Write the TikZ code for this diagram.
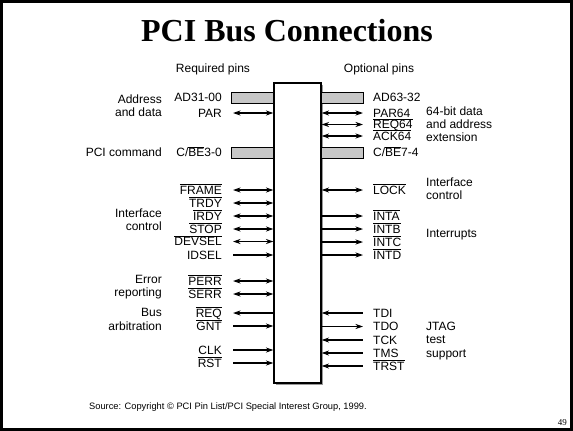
\documentclass[tikz,border=0pt]{standalone}
\usepackage{fontspec}
\setmainfont{Liberation Serif}
\newfontfamily\labsans{Liberation Sans}
\usetikzlibrary{arrows.meta}
\newcommand\ol[1]{$\overline{\hbox{#1}}$}
\newcommand\labfont{\labsans\fontsize{12}{13.2}\selectfont}
\tikzset{
  lab/.style={font=\labfont, inner sep=0pt},
  lpin/.style={lab, anchor=east, text height=8.6pt, text depth=0pt},
  rpin/.style={lab, anchor=west, text height=8.6pt, text depth=0pt},
  lgrp/.style={lab, anchor=east, align=right},
  rgrp/.style={lab, anchor=west, align=left},
  tip/.tip={Stealth[length=7.5pt,width=5pt]},
  wire/.style={line width=1.1pt},
  both/.style={wire, tip-tip},
  headR/.style={wire, -tip},
  headL/.style={wire, tip-},
  bus/.style={draw=black, line width=0.9pt, fill=black!22},
}
\begin{document}
\begin{tikzpicture}[x=1pt, y=-1pt]
  % slide frame
  \useasboundingbox (0,0) rectangle (573,431);
  \fill[white] (0,0) rectangle (573,431);
  \draw[line width=3pt] (1.5,1.5) rectangle (571.5,429.5);

  \node[font=\bfseries\fontsize{32}{36}\selectfont, inner sep=0pt] (title) at (287,31) {PCI Bus Connections};

  \node[lab] (req) at (213,69) {Required pins};
  \node[lab] (opt) at (379,69) {Optional pins};

  % the device body, with a soft shadow
  \fill[black!40] (276,85) rectangle (323,385);
  \node[draw, line width=1.1pt, fill=white, minimum width=47pt, minimum height=300pt, inner sep=0pt] (chip) at (297.5,233) {};

  % ---------- required pins (left side) ----------
  \node[lpin] (ad)  at (222,97.5) {AD31-00};
  \draw[bus] (231,92) rectangle (chip.west |- 0,103);
  \node[lpin] (par) at (222,113) {PAR};
  \coordinate (parE) at (233,113);
  \draw[both] (parE) -- (parE -| chip.west);
  \node[lpin] (cbe) at (222,152.5) {C/\ol{BE}3-0};
  \draw[bus] (231,147) rectangle (chip.west |- 0,158);

  \foreach \name/\txt/\yy/\sty in {
      frame/\ol{FRAME}/190/both, trdy/\ol{TRDY}/203/both, irdy/\ol{IRDY}/216/both,
      stop/\ol{STOP}/229/both, devsel/\ol{DEVSEL}/241.5/both, idsel/IDSEL/255/headR,
      perr/\ol{PERR}/281/both, serr/\ol{SERR}/294/both,
      reqq/\ol{REQ}/313/headL, gnt/\ol{GNT}/326/headR,
      clk/CLK/350/headR, rst/\ol{RST}/363/headR} {
    \node[lpin] (\name) at (222,\yy) {\txt};
    \coordinate (\name E) at (233,\yy);
    \draw[\sty] (\name E) -- (\name E -| chip.west);
  }

  \node[lgrp] (gaddr) at (162,105.5) {Address\\and data};
  \node[lgrp] (gcmd)  at (162,152.5) {PCI command};
  \node[lgrp] (gifc)  at (162,220) {Interface\\control};
  \node[lgrp] (gerr)  at (162,287.5) {Error\\reporting};
  \node[lgrp] (garb)  at (162,319.5) {Bus\\arbitration};

  % ---------- optional pins (right side) ----------
  \node[rpin] (ad64) at (373,97.5) {AD63-32};
  \draw[bus] (chip.east |- 0,92) rectangle (363,103);
  \node[rpin] (cbe64) at (373,152.5) {C/\ol{BE}7-4};
  \draw[bus] (chip.east |- 0,147) rectangle (363,158);

  \foreach \name/\txt/\yy/\sty in {
      par64/PAR64/113/both, req64/\ol{REQ64}/124.5/both, ack64/\ol{ACK64}/136/both,
      lock/\ol{LOCK}/190/both,
      inta/\ol{INTA}/216/headR, intb/\ol{INTB}/229/headR,
      intc/\ol{INTC}/242/headR, intd/\ol{INTD}/255/headR,
      tdi/TDI/313/headL, tdo/TDO/326.5/headR, tck/TCK/340/headL,
      tms/TMS/353/headL, trst/\ol{TRST}/366/headL} {
    \node[rpin] (\name) at (373,\yy) {\txt};
    \coordinate (\name W) at (363,\yy);
    \draw[\sty] (\name W -| chip.east) -- (\name W);
  }

  \node[rgrp] (g64)   at (426,124.5) {64-bit data\\and address\\extension};
  \node[rgrp] (gifc2) at (426,188.5) {Interface\\control};
  \node[rgrp] (gint)  at (426,235) {Interrupts};
  \node[rgrp] (gjtag) at (426,341) {JTAG\\test\\support};

  % ---------- footer ----------
  \node[lab, anchor=west, font=\labsans\fontsize{9.3}{11}\selectfont] (src) at (89,407)
    {Source: Copyright \textcopyright{} PCI Pin List/PCI Special Interest Group, 1999.};
  \node[inner sep=0pt, anchor=east, font=\fontsize{9}{10}\selectfont] (pg) at (567,423) {49};
\end{tikzpicture}
\end{document}
